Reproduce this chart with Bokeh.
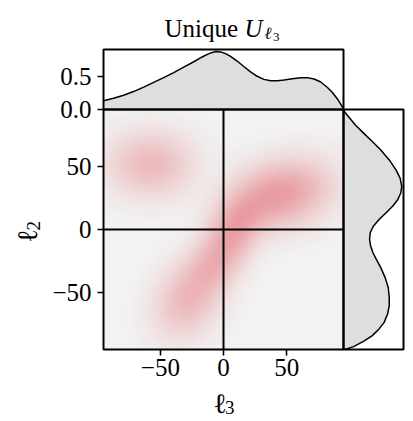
import numpy as np
from bokeh.plotting import figure
from bokeh.models import Range1d, LinearAxis, FixedTicker, LinearColorMapper, Label
from bokeh.embed import file_html
from bokeh.resources import INLINE

# ---------------- data ----------------
LIM = 95            # main panel spans -LIM..LIM on both axes
DENS_MAX = 0.9      # marginal density axis maximum
CROSS = 0           # reference lines at l2 = 0 and l3 = 0

x_ticks = [-50, 0, 50]
x_tick_labels = ["\u221250", "0", "50"]
y_ticks = [-50, 0, 50]
y_tick_labels = ["\u221250", "0", "50"]
dens_ticks = [0.0, 0.5]
dens_tick_labels = ["0.0", "0.5"]

# top marginal (density of l3)
top_x = [-95, -87, -79.1, -71.2, -63.2, -55.3, -47.4, -39.4, -31.5, -23.5, -16.9,
         -11.6, -6.3, -2.4, 1.6, 5.6, 10.8, 16.1, 21.4, 26.7, 32, 37.3, 42.6, 47.9,
         54.5, 61.1, 66.4, 71.7, 77, 82.3, 86.2, 90.2, 92.9, 94.7]
top_density = [0.132, 0.168, 0.213, 0.269, 0.335, 0.407, 0.478, 0.554, 0.635, 0.716,
               0.788, 0.838, 0.869, 0.864, 0.838, 0.798, 0.727, 0.645, 0.564, 0.498,
               0.452, 0.432, 0.432, 0.442, 0.462, 0.478, 0.478, 0.457, 0.412, 0.33,
               0.254, 0.158, 0.076, 0.015]

# right marginal (density of l2)
right_y = [95, 93.2, 89.2, 82.7, 76.1, 69.6, 63.0, 55.1, 47.2, 40.7, 34.1, 28.9, 23.6,
           18.4, 13.1, 7.9, 2.6, -2.6, -7.9, -13.1, -18.4, -23.6, -30.2, -38.1, -45.9,
           -53.8, -60.4, -66.9, -73.5, -78.7, -84.0, -88.4, -92.7, -95.0]
right_density = [0.0, 0.015, 0.076, 0.178, 0.305, 0.432, 0.559, 0.686, 0.788, 0.849,
                 0.874, 0.859, 0.813, 0.737, 0.635, 0.534, 0.447, 0.401, 0.391, 0.407,
                 0.442, 0.493, 0.559, 0.625, 0.671, 0.686, 0.686, 0.661, 0.610, 0.534,
                 0.432, 0.305, 0.152, 0.025]

# joint density: blobs (centre, spread, orientation, strength)
blob_x = [-58, 45, -28, -12, 4, 15]
blob_y = [52, 28, -55, -32, -10, 12]
blob_major = [21, 25, 20, 13, 18, 14]
blob_minor = [16, 16, 15, 12, 12, 11]
blob_angle = [0, 15, 60, 60, 60, 35]
blob_weight = [0.55, 0.95, 0.58, 0.3, 0.75, 0.35]

# ---------------- density image ----------------
n = 240
g = np.linspace(-LIM, LIM, n)
X, Y = np.meshgrid(g, g)
Z = np.zeros_like(X)
for cx, cy, a, b, ang, w in zip(blob_x, blob_y, blob_major, blob_minor, blob_angle, blob_weight):
    t = np.deg2rad(ang)
    dx, dy = X - cx, Y - cy
    u = dx * np.cos(t) + dy * np.sin(t)
    v = -dx * np.sin(t) + dy * np.cos(t)
    Z += w * np.exp(-0.5 * ((u / a) ** 2 + (v / b) ** 2))

lo = np.array([242, 242, 242])
hi = np.array([232, 155, 159])
palette = ["#%02x%02x%02x" % tuple(int(round(c)) for c in lo + (hi - lo) * (i / 255.0) ** 0.75)
           for i in range(256)]
mapper = LinearColorMapper(palette=palette, low=0, high=1)

# ---------------- geometry (page pixels; frame = whole canvas) ----------------
W, H = 410, 418
MAIN_L, MAIN_R, MAIN_T, MAIN_B = 103, 343, 109, 349   # main box
TOP_T = 49                                            # top of top box
RIGHT_R = 403                                         # right edge of right box

k = 2 * LIM / (MAIN_R - MAIN_L)                # data units per px (main)
m = DENS_MAX / (MAIN_T - TOP_T)                # density units per px (marginals)

x_range = Range1d(-LIM - MAIN_L * k, LIM + (W - MAIN_R) * k)
y_range = Range1d(-LIM - (H - MAIN_B) * k, LIM + MAIN_T * k)

p = figure(x_range=x_range, y_range=y_range,
           frame_width=W, frame_height=H,
           min_border=0, min_border_left=0, min_border_right=0,
           min_border_top=0, min_border_bottom=0,
           x_axis_type=None, y_axis_type=None,
           toolbar_location=None, output_backend="svg")
p.outline_line_color = None
p.background_fill_color = "white"
p.border_fill_color = "white"

p.extra_y_ranges = {"top": Range1d(-(H - MAIN_T) * m, DENS_MAX + TOP_T * m)}
p.extra_x_ranges = {"right": Range1d(-MAIN_R * m, DENS_MAX + (W - RIGHT_R) * m)}

# heat map
p.image(image=[Z], x=-LIM, y=-LIM, dw=2 * LIM, dh=2 * LIM, color_mapper=mapper)

# marginals
p.varea(x=top_x, y1=0, y2=top_density, fill_color="#dedede", y_range_name="top")
p.line(top_x, top_density, line_color="black", line_width=1.5, y_range_name="top")
p.harea(y=right_y, x1=0, x2=right_density, fill_color="#dedede", x_range_name="right")
p.line(right_density, right_y, line_color="black", line_width=1.5, x_range_name="right")

# cross-hair at zero
p.segment(x0=[CROSS, -LIM], y0=[-LIM, CROSS], x1=[CROSS, LIM], y1=[LIM, CROSS],
          line_color="black", line_width=2)

# panel boxes
p.quad(left=[-LIM], right=[LIM], bottom=[-LIM], top=[LIM],
       fill_color=None, line_color="black", line_width=2)
p.quad(left=[-LIM], right=[LIM], bottom=[0], top=[DENS_MAX],
       fill_color=None, line_color="black", line_width=2, y_range_name="top")
p.quad(left=[0], right=[DENS_MAX], bottom=[-LIM], top=[LIM],
       fill_color=None, line_color="black", line_width=2, x_range_name="right")

FONT = "Liberation Serif"


def style_axis(ax, ticks, labels, standoff):
    ax.ticker = FixedTicker(ticks=ticks)
    ax.major_label_overrides = {t: l for t, l in zip(ticks, labels)}
    ax.axis_line_color = None
    ax.major_tick_out = 6
    ax.major_tick_in = 0
    ax.major_tick_line_width = 1.6
    ax.major_tick_line_color = "black"
    ax.minor_tick_line_color = None
    ax.major_label_text_font = FONT
    ax.major_label_text_font_size = "25px"
    ax.major_label_text_color = "black"
    ax.major_label_standoff = standoff


ax_x = LinearAxis(fixed_location=-LIM, bounds=(-LIM, LIM))
style_axis(ax_x, x_ticks, x_tick_labels, 3)
p.add_layout(ax_x, "below")

ax_y = LinearAxis(fixed_location=-LIM, bounds=(-LIM, LIM))
style_axis(ax_y, y_ticks, y_tick_labels, 6)
p.add_layout(ax_y, "left")

ax_d = LinearAxis(y_range_name="top", fixed_location=-LIM, bounds=(0, DENS_MAX))
style_axis(ax_d, dens_ticks, dens_tick_labels, 6)
p.add_layout(ax_d, "left")

# texts: (text, left x, baseline y, size, style, angle) in page pixels
text_parts = [
    ("Unique", 164, 27.5, "25px", "normal", 0),      # title
    ("U", 244, 27.5, "25px", "italic", 0),
    ("\u2113", 264, 33, "17px", "italic", 0),
    ("3", 272.5, 36, "13px", "normal", 0),
    ("\u2113", 213, 403, "28px", "normal", 0),       # x-axis label  l_3
    ("3", 224.5, 407, "19px", "normal", 0),
    ("\u2113", 27, 242, "28px", "normal", 90),       # y-axis label  l_2
    ("2", 33, 230, "19px", "normal", 90),
]
for txt, sx, sy, size, style, ang in text_parts:
    p.add_layout(Label(x=sx, y=H - sy, x_units="screen", y_units="screen", text=txt,
                       angle=ang, angle_units="deg",
                       text_font=FONT, text_font_size=size, text_font_style=style,
                       text_color="black", text_baseline="alphabetic", text_align="left"))

open("out.html", "w").write(file_html(p, INLINE))
